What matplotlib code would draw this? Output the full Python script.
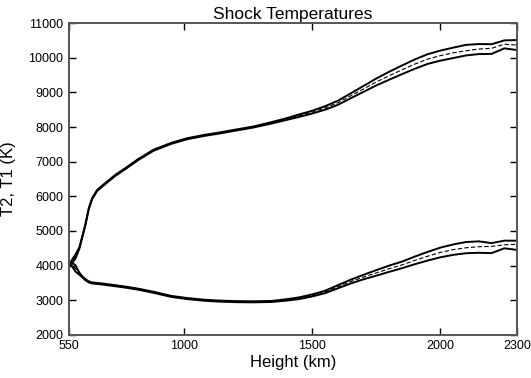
import matplotlib
matplotlib.use('Agg')
import matplotlib.pyplot as plt

plt.rcParams['font.family'] = ['Liberation Sans', 'DejaVu Sans']

# heights (km) shared by all curves
height = [550, 560, 575, 590, 600, 613, 627, 640, 660, 690, 730, 770, 820,
          880, 950, 1010, 1080, 1140, 1200, 1270, 1340, 1400, 1450, 1500,
          1550, 1600, 1650, 1700, 1750, 1800, 1850, 1900, 1950, 2000, 2050,
          2100, 2150, 2200, 2250, 2300]

# T2 (shocked) temperature: upper bound, mean, lower bound
t2_mean = [4000, 4100, 4260, 4500, 4780, 5150, 5640, 5930, 6170, 6360, 6600,
           6800, 7060, 7330, 7530, 7660, 7760, 7830, 7910, 8000, 8120, 8230,
           8330, 8430, 8550, 8700, 8900, 9100, 9300, 9480, 9650, 9815, 9960,
           10060, 10140, 10200, 10250, 10270, 10390, 10365]
t2_hi = [4000, 4150, 4320, 4520, 4795, 5165, 5655, 5945, 6185, 6375, 6615,
         6815, 7075, 7345, 7545, 7675, 7775, 7845, 7925, 8015, 8140, 8255,
         8365, 8470, 8600, 8760, 8970, 9185, 9400, 9595, 9775, 9950, 10100,
         10205, 10290, 10370, 10394, 10390, 10500, 10509]
t2_lo = [4000, 4060, 4200, 4480, 4765, 5135, 5625, 5915, 6155, 6345, 6585,
         6785, 7045, 7315, 7515, 7645, 7745, 7815, 7895, 7985, 8100, 8205,
         8295, 8390, 8500, 8640, 8830, 9015, 9200, 9365, 9525, 9680, 9820,
         9915, 9990, 10065, 10105, 10110, 10270, 10220]

# T1 (pre-shock) temperature: upper bound, mean, lower bound
t1_mean = [4000, 4050, 3920, 3770, 3690, 3600, 3530, 3500, 3485, 3460, 3420,
           3380, 3320, 3230, 3110, 3050, 3000, 2975, 2960, 2955, 2965, 3010,
           3060, 3140, 3240, 3390, 3540, 3670, 3790, 3910, 4020, 4150, 4270,
           4380, 4460, 4515, 4545, 4555, 4600, 4616]
t1_hi = [4000, 4100, 4010, 3800, 3705, 3615, 3545, 3515, 3500, 3475, 3435,
         3395, 3335, 3245, 3125, 3065, 3015, 2990, 2975, 2970, 2980, 3030,
         3085, 3170, 3275, 3435, 3595, 3735, 3870, 4000, 4115, 4260, 4395,
         4520, 4610, 4680, 4700, 4650, 4720, 4720]
t1_lo = [4000, 4000, 3830, 3740, 3675, 3585, 3515, 3485, 3470, 3445, 3405,
         3365, 3305, 3215, 3095, 3035, 2985, 2960, 2945, 2940, 2950, 2990,
         3035, 3110, 3205, 3345, 3485, 3605, 3710, 3820, 3925, 4040, 4145,
         4240, 4310, 4357, 4370, 4360, 4500, 4452]

x_ticks = [550, 1000, 1500, 2000, 2300]
y_ticks = list(range(2000, 11001, 1000))

fig = plt.figure(figsize=(5.31, 3.78), dpi=100)
ax = fig.add_axes([0.130, 0.114, 0.844, 0.825])

for hi, mean, lo in [(t2_hi, t2_mean, t2_lo), (t1_hi, t1_mean, t1_lo)]:
    ax.plot(height, hi, color='black', lw=1.4)
    ax.plot(height, lo, color='black', lw=1.4)
    ax.plot(height, mean, color='black', lw=0.8, ls=(0, (4, 2)))

ax.set_xlim(550, 2300)
ax.set_ylim(2000, 11000)
ax.set_xticks(x_ticks)
ax.set_yticks(y_ticks)
ax.tick_params(direction='in', length=5, width=1, top=True, right=True,
               labelsize=9, colors='black', pad=4)
for s in ax.spines.values():
    s.set_color('#555555')
    s.set_linewidth(1.4)

ax.set_xlabel('Height (km)', fontsize=12, labelpad=2)
ax.set_ylabel('T2, T1 (K)', fontsize=12, labelpad=9)
ax.set_title('Shock Temperatures', fontsize=12.5, pad=3)

fig.savefig('out.png', dpi=100)
